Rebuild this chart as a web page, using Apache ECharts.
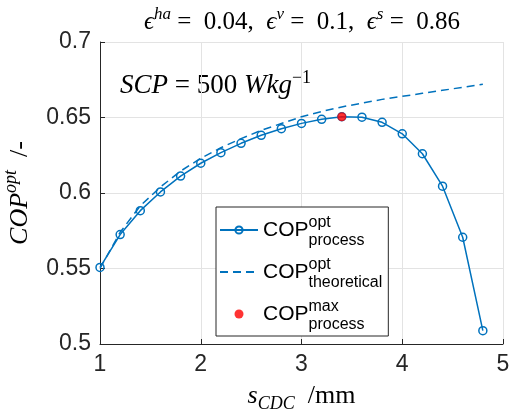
<!DOCTYPE html>
<html><head><meta charset="utf-8">
<script src="https://cdn.jsdelivr.net/npm/echarts@6/dist/echarts.min.js"></script>
<style>html,body{margin:0;padding:0;background:#fff}#c{width:509px;height:409px}</style>
</head><body><div id="c"></div>
<script>
// ---- data ----
const sCDC = [1.0, 1.2, 1.4, 1.6, 1.8, 2.0, 2.2, 2.4, 2.6, 2.8, 3.0, 3.2, 3.4, 3.6, 3.8, 4.0, 4.2, 4.4, 4.6, 4.8];
const copProcess = [0.5507, 0.5725, 0.5883, 0.6007, 0.6112, 0.6197, 0.6267, 0.6329, 0.6382, 0.6426, 0.6461, 0.6488, 0.6505, 0.6502, 0.6468, 0.6392, 0.6260, 0.6045, 0.5707, 0.5088];
const copTheoretical = [0.5500, 0.5740, 0.5915, 0.6040, 0.6145, 0.6230, 0.6300, 0.6360, 0.6415, 0.6460, 0.6505, 0.6540, 0.6570, 0.6595, 0.6620, 0.6640, 0.6660, 0.6680, 0.6700, 0.6720];
const maxX = [3.4];
const maxY = [0.6505];
const xTicks = [1, 2, 3, 4, 5];
const yTicks = [0.5, 0.55, 0.6, 0.65, 0.7];
const legendSup = {process: 'opt', theoretical: 'opt', max: 'max'};
const legendSub = {process: 'process', theoretical: 'theoretical', max: 'process'};

const BLUE = '#0072BD';
const AX = '#262626';
const SANS = 'Liberation Sans, Arial, Helvetica, sans-serif';
const SERIF = 'Liberation Serif, Times New Roman, serif';

const chart = echarts.init(document.getElementById('c'), null, {renderer: 'canvas'});
const pairs = (xs, ys) => xs.map((x, i) => [x, ys[i]]);

const mathRich = (size, supSize) => ({
  i: {fontFamily: SERIF, fontStyle: 'italic', fontSize: size, color: '#000', lineHeight: 30, height: 30},
  r: {fontFamily: SERIF, fontSize: size, color: '#000', lineHeight: 30, height: 30},
  sup: {fontFamily: SERIF, fontStyle: 'italic', fontSize: supSize, color: '#000', lineHeight: 12, height: 12, verticalAlign: 'top'},
  sub: {fontFamily: SERIF, fontStyle: 'italic', fontSize: supSize, color: '#000', lineHeight: 14, height: 14, verticalAlign: 'bottom'}
});

const option = {
  animation: false,
  backgroundColor: '#fff',
  grid: {left: 100, right: 6, top: 42, bottom: 65, containLabel: false, outerBoundsMode: 'none'},
  xAxis: {
    type: 'value', min: xTicks[0], max: xTicks[xTicks.length - 1], interval: 1,
    axisLine: {show: true, lineStyle: {color: AX, width: 1}},
    axisTick: {show: true, inside: true, length: 5, lineStyle: {color: AX}},
    axisLabel: {fontFamily: SANS, fontSize: 23, color: AX, margin: 9},
    splitLine: {show: true, lineStyle: {color: '#e3e3e3', width: 1}},
    name: '{i|s}{sub|CDC}{r|  /mm}',
    nameLocation: 'middle', nameGap: 36,
    nameTextStyle: {rich: mathRich(26, 18)}
  },
  yAxis: {
    type: 'value', min: yTicks[0], max: yTicks[yTicks.length - 1], interval: 0.05,
    axisLine: {show: true, lineStyle: {color: AX, width: 1}},
    axisTick: {show: true, inside: true, length: 5, lineStyle: {color: AX}},
    axisLabel: {fontFamily: SANS, fontSize: 23, color: AX, margin: 9},
    splitLine: {show: true, lineStyle: {color: '#e3e3e3', width: 1}},
    name: '{i|COP}{sup|opt}{r|  /-}',
    nameLocation: 'middle', nameGap: 48, nameRotate: 90,
    nameTextStyle: {rich: mathRich(26, 18)}
  },
  legend: {
    orient: 'vertical', left: 216, top: 207,
    backgroundColor: '#fff', borderColor: AX, borderWidth: 1,
    padding: [5, 6, 3, 3], itemGap: 5, itemWidth: 38, itemHeight: 9,
    data: [
      {name: 'process'},
      {name: 'theoretical', itemStyle: {opacity: 0}},
      {name: 'max'}
    ],
    formatter: name => '{c|COP}{sup|' + legendSup[name] + '}\n{sp| }{sub|' + legendSub[name] + '}',
    textStyle: {
      fontFamily: SANS, color: '#000',
      rich: {
        c: {fontFamily: SANS, fontSize: 21, color: '#000', lineHeight: 8, height: 8, verticalAlign: 'bottom'},
        sup: {fontFamily: SANS, fontSize: 16, color: '#000', lineHeight: 22, height: 22, verticalAlign: 'middle'},
        sp: {fontFamily: SANS, fontSize: 16, width: 45.5, lineHeight: 14, height: 14},
        sub: {fontFamily: SANS, fontSize: 16, color: '#000', lineHeight: 14, height: 14}
      }
    }
  },
  graphic: [
    {
      type: 'text', x: 302, y: 22, silent: true,
      style: {
        text: '{e|ϵ}{sup|ha}{r| =  0.04,  }{e|ϵ}{sup|v}{r| =  0.1,  }{e|ϵ}{sup|s}{r| =  0.86}',
        align: 'center', verticalAlign: 'middle',
        rich: {
          e: {fontFamily: SERIF, fontStyle: 'italic', fontSize: 25, fill: '#000', lineHeight: 26, height: 26},
          r: {fontFamily: SERIF, fontSize: 25, fill: '#000', lineHeight: 26, height: 26},
          sup: {fontFamily: SERIF, fontStyle: 'italic', fontSize: 17, fill: '#000', lineHeight: 12, height: 12, verticalAlign: 'top'}
        }
      }
    },
    {
      type: 'text', x: 120, y: 86, silent: true,
      style: {
        text: '{i|SCP}{r| = 500 }{i|Wkg}{sup|−1}',
        align: 'left', verticalAlign: 'middle',
        rich: {
          i: {fontFamily: SERIF, fontStyle: 'italic', fontSize: 27, fill: '#000', lineHeight: 30, height: 30},
          r: {fontFamily: SERIF, fontSize: 27, fill: '#000', lineHeight: 30, height: 30},
          sup: {fontFamily: SERIF, fontSize: 18, fill: '#000', lineHeight: 14, height: 14, verticalAlign: 'top'}
        }
      }
    }
  ],
  series: [
    {
      name: 'process', type: 'line', data: pairs(sCDC, copProcess), z: 3,
      symbol: 'circle', symbolSize: 8, showSymbol: true,
      lineStyle: {color: BLUE, width: 1.5},
      itemStyle: {color: 'rgba(255,255,255,0)', borderColor: BLUE, borderWidth: 1.5}
    },
    {
      name: 'theoretical', type: 'line', data: pairs(sCDC, copTheoretical), z: 2,
      symbol: 'none', showSymbol: false,
      lineStyle: {color: BLUE, width: 1.5, type: [8, 5]},
      itemStyle: {color: BLUE}
    },
    {
      name: 'max', type: 'scatter', data: pairs(maxX, maxY), z: 5,
      symbol: 'circle', symbolSize: 9,
      itemStyle: {color: '#FF0000'}
    }
  ]
};
chart.setOption(option);
</script>
</body></html>
